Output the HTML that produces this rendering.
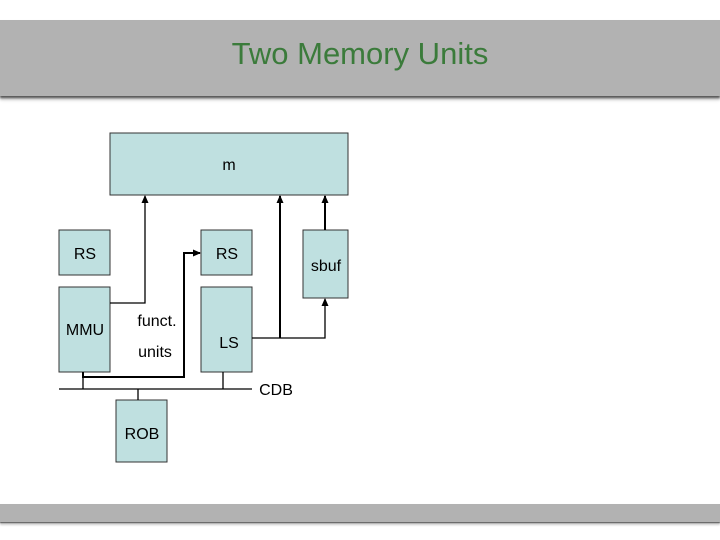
<!DOCTYPE html>
<html><head><style>
body{margin:0;width:720px;height:540px;background:#fff;overflow:hidden;position:relative;font-family:"Liberation Sans",sans-serif}
.hdr{position:absolute;left:0;top:20px;width:720px;height:76px;background:#b2b2b2;box-shadow:0 2px 2px #555,0 4px 3px #ccc}
.hdr div{position:absolute;width:720px;text-align:center;top:16px;font-size:31px;color:#3b7b3b}
.ftr{position:absolute;left:0;top:504px;width:720px;height:18px;background:#b2b2b2;box-shadow:0 1px 1px #555,0 3px 2px #ccc}
</style></head><body>
<div class="hdr"><div>Two Memory Units</div></div>
<div class="ftr"></div>
<svg width="720" height="540" style="position:absolute;left:0;top:0" font-family="Liberation Sans, sans-serif" font-size="16">
<defs><marker id="a" markerUnits="userSpaceOnUse" markerWidth="8" markerHeight="8" refX="7" refY="4" orient="auto"><path d="M0,0.5L8,4L0,7.5z" fill="#000"/></marker></defs>
<g fill="#bfe0e0" stroke="#333" stroke-width="1">
<rect x="110" y="133" width="238" height="62"/>
<rect x="59" y="230" width="51" height="45"/>
<rect x="59" y="287" width="51" height="85"/>
<rect x="201" y="230" width="51" height="45"/>
<rect x="201" y="287" width="51" height="85"/>
<rect x="303" y="230" width="45" height="68"/>
<rect x="116" y="400" width="51" height="62"/>
</g>
<g fill="none" stroke="#000" stroke-width="1.3">
<polyline points="110,303 145,303 145,196" marker-end="url(#a)"/>
<polyline points="252,338 325,338 325,299" marker-end="url(#a)"/>
<polyline points="280,338 280,196" stroke-width="2" marker-end="url(#a)"/>
<polyline points="325,230 325,196" stroke-width="2" marker-end="url(#a)"/>
<polyline points="83,372 83,377 184,377 184,253 200,253" stroke-width="2" marker-end="url(#a)"/>
<line x1="59" y1="389" x2="252" y2="389"/>
<line x1="83" y1="377" x2="83" y2="389"/>
<line x1="223" y1="372" x2="223" y2="389"/>
<line x1="138" y1="389" x2="138" y2="400"/>
</g>
<g fill="#000" text-anchor="middle">
<text x="229" y="170">m</text>
<text x="85" y="259">RS</text>
<text x="85" y="335">MMU</text>
<text x="227" y="259">RS</text>
<text x="326" y="271">sbuf</text>
<text x="229" y="348">LS</text>
<text x="142" y="439">ROB</text>
<text x="157" y="326">funct.</text>
<text x="155" y="357">units</text>
<text x="276" y="395">CDB</text>
</g>
</svg>
</body></html>
